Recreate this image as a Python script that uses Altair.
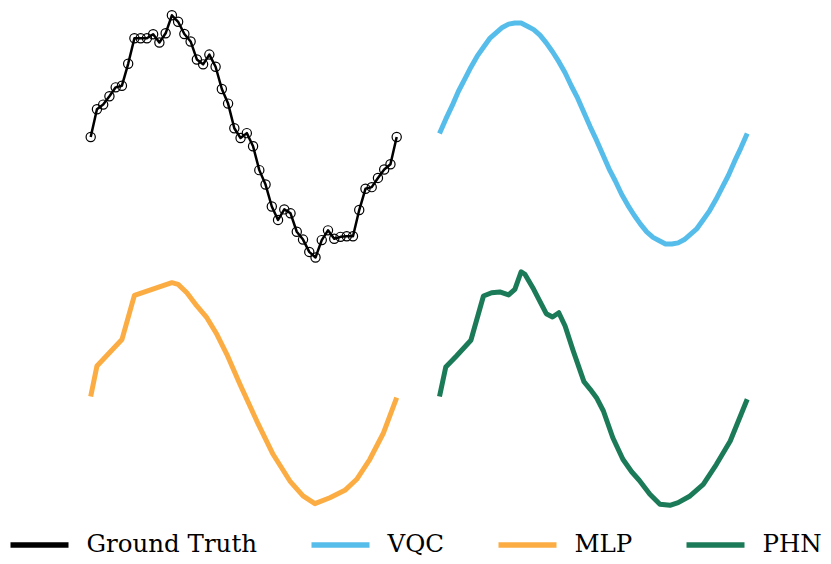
import altair as alt
import pandas as pd

series_names = ["Ground Truth", "VQC", "MLP", "PHN"]
series_colors = ["#000000", "#56BDEB", "#FBAD43", "#1B7A57"]

# Ground truth: 50 noisy samples
gt_y = [0.00, 0.256, 0.299, 0.376, 0.458, 0.473, 0.675, 0.910, 0.910, 0.910,
        0.947, 0.871, 0.956, 1.122, 1.062, 0.950, 0.881, 0.715, 0.670, 0.760,
        0.648, 0.443, 0.308, 0.081, -0.009, 0.036, -0.085, -0.305, -0.438, -0.640,
        -0.764, -0.667, -0.703, -0.873, -0.945, -1.059, -1.110, -0.950, -0.860, -0.938,
        -0.920, -0.914, -0.914, -0.673, -0.477, -0.462, -0.377, -0.299, -0.251, 0.000]

# VQC prediction (smooth)
vqc_y = [0.00, 0.13, 0.25, 0.38, 0.49, 0.60, 0.70, 0.78, 0.86, 0.91,
         0.96, 0.99, 1.00, 1.00, 0.97, 0.94, 0.89, 0.82, 0.74, 0.65,
         0.55, 0.43, 0.32, 0.19, 0.06, -0.06, -0.19, -0.32, -0.43, -0.55,
         -0.65, -0.74, -0.82, -0.89, -0.94, -0.97, -1.00, -1.00, -0.99, -0.96,
         -0.91, -0.86, -0.78, -0.70, -0.60, -0.49, -0.38, -0.25, -0.13, 0.00]

# MLP prediction
mlp_x = [0, 1, 5, 7, 13, 14, 15.4, 17, 18.6, 20.2, 21.8, 23.9, 26.6, 29.2,
         31.9, 34.0, 35.9, 38.3, 40.7, 42.6, 44.7, 46.9, 49]
mlp_y = [0.00, 0.276, 0.515, 0.915, 1.030, 1.015, 0.939, 0.819, 0.713, 0.563,
         0.382, 0.110, -0.222, -0.523, -0.765, -0.900, -0.970, -0.916, -0.849, -0.749,
         -0.568, -0.328, -0.011]

# PHN prediction
phn_x = [0, 1, 2.7, 5, 7, 8.3, 9.6, 11, 12, 13, 13.6, 15, 17, 18, 19, 20, 21.3,
         23, 24, 25, 26.1, 27.6, 29.2, 30.6, 31.8, 33.5, 35.1, 36.7, 38, 39.9,
         42, 44.1, 46.3, 49]
phn_y = [0.00, 0.267, 0.367, 0.509, 0.909, 0.939, 0.946, 0.919, 0.970, 1.129,
         1.106, 0.970, 0.749, 0.719, 0.758, 0.638, 0.412, 0.134, 0.065, -0.011,
         -0.131, -0.373, -0.568, -0.681, -0.758, -0.885, -0.976, -0.985, -0.961, -0.900,
         -0.795, -0.614, -0.403, -0.025]

gt_df = pd.DataFrame({"x": list(range(len(gt_y))), "y": gt_y})
vqc_df = pd.DataFrame({"x": list(range(len(vqc_y))), "y": vqc_y, "series": "VQC"})
mlp_df = pd.DataFrame({"x": mlp_x, "y": mlp_y, "series": "MLP"})
phn_df = pd.DataFrame({"x": phn_x, "y": phn_y, "series": "PHN"})

color_enc = alt.Color(
    "series:N",
    scale=alt.Scale(domain=series_names, range=series_colors),
    legend=alt.Legend(
        orient="none", legendX=-63, legendY=518.5, direction="horizontal",
        title=None, symbolType="M-2,0H2", symbolSize=841, symbolStrokeWidth=5.5,
        symbolFillColor="transparent",
        labelFont="DejaVu Serif", labelFontSize=24.5, labelColor="black",
        labelOffset=29.5, columnPadding=42, padding=0, labelLimit=0,
    ),
)


def xenc(dom):
    return alt.X("x:Q", scale=alt.Scale(domain=dom, nice=False, zero=False), axis=None)


def yenc(dom):
    return alt.Y("y:Q", scale=alt.Scale(domain=dom, nice=False, zero=False), axis=None)


LW, RW, H = 320, 330, 250
left_x = [-0.913, 50.33]
right_x = [-2.309, 50.24]

gt_line = alt.Chart(gt_df).mark_line(color="black", strokeWidth=2.5, strokeJoin="round").encode(
    x=xenc(left_x), y=yenc([-1.1241, 1.18])
)
gt_pts = alt.Chart(gt_df).mark_point(
    shape="circle", filled=False, color="black", size=85, strokeWidth=1.2, opacity=1
).encode(x=xenc(left_x), y=yenc([-1.1241, 1.18]))
tl = alt.layer(gt_line, gt_pts).properties(width=LW, height=H)

tr = alt.Chart(vqc_df).mark_line(strokeWidth=5, strokeJoin="round").encode(
    x=xenc(right_x), y=yenc([-1.1357, 1.1267]), color=color_enc
).properties(width=RW, height=H)

bl = alt.Chart(mlp_df).mark_line(strokeWidth=5, strokeJoin="round").encode(
    x=xenc(left_x), y=yenc([-1.1267, 1.1357]), color=color_enc
).properties(width=LW, height=H)

br = alt.Chart(phn_df).mark_line(strokeWidth=5, strokeJoin="round").encode(
    x=xenc(right_x), y=yenc([-1.1267, 1.1357]), color=color_enc
).properties(width=RW, height=H)

chart = alt.vconcat(
    alt.hconcat(tl, tr, spacing=20),
    alt.hconcat(bl, br, spacing=20),
    spacing=4,
).properties(
    padding={"left": 14, "top": 0, "right": 0, "bottom": 0}
).configure_view(stroke=None)

chart.save("out.html", embed_options={"renderer": "svg", "actions": False})
